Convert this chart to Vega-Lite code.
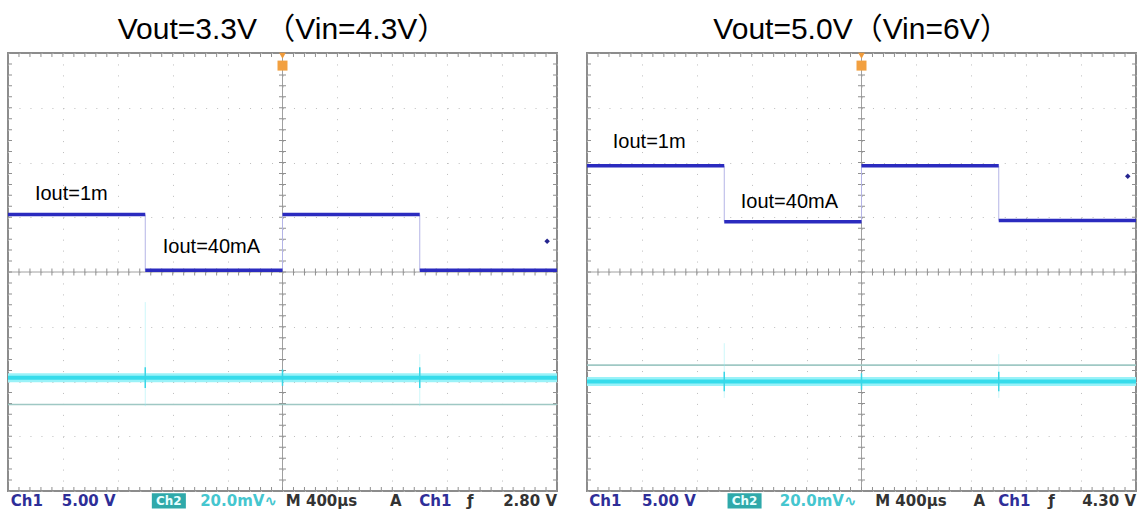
{
  "$schema": "https://vega.github.io/schema/vega-lite/v6.json",
  "background": "#ffffff",
  "padding": {"left": 2, "top": 15, "right": 0, "bottom": 0},
  "data": {"values": [
    {"panel": "Vout=3.3V （Vin=4.3V）", "k": "frame"},
    {"panel": "Vout=3.3V （Vin=4.3V）", "k": "cur", "t": -5, "t2": -2.5, "v": 1.05},
    {"panel": "Vout=3.3V （Vin=4.3V）", "k": "cur", "t": -2.5, "t2": 0, "v": 0.03},
    {"panel": "Vout=3.3V （Vin=4.3V）", "k": "cur", "t": 0, "t2": 2.5, "v": 1.05},
    {"panel": "Vout=3.3V （Vin=4.3V）", "k": "cur", "t": 2.5, "t2": 5, "v": 0.03},
    {"panel": "Vout=3.3V （Vin=4.3V）", "k": "edge", "t": -2.5, "v": 0.03, "v2": 1.05},
    {"panel": "Vout=3.3V （Vin=4.3V）", "k": "edge", "t": 0, "v": 0.03, "v2": 1.05},
    {"panel": "Vout=3.3V （Vin=4.3V）", "k": "edge", "t": 2.5, "v": 0.03, "v2": 1.05},
    {"panel": "Vout=3.3V （Vin=4.3V）", "k": "band", "v": -1.93},
    {"panel": "Vout=3.3V （Vin=4.3V）", "k": "ref", "v": -2.42},
    {"panel": "Vout=3.3V （Vin=4.3V）", "k": "spike", "t": -2.5, "v": -2.12, "v2": -1.74},
    {"panel": "Vout=3.3V （Vin=4.3V）", "k": "spike", "t": 0, "v": -2.08, "v2": -1.78},
    {"panel": "Vout=3.3V （Vin=4.3V）", "k": "spike", "t": 2.5, "v": -2.12, "v2": -1.74},
    {"panel": "Vout=3.3V （Vin=4.3V）", "k": "ghost", "t": -2.5, "v": -2.45, "v2": -0.55},
    {"panel": "Vout=3.3V （Vin=4.3V）", "k": "ghost", "t": 2.5, "v": -2.45, "v2": -1.5},
    {"panel": "Vout=3.3V （Vin=4.3V）", "k": "lab", "t": -4.51, "v": 1.42, "txt": "Iout=1m"},
    {"panel": "Vout=3.3V （Vin=4.3V）", "k": "lab", "t": -2.18, "v": 0.45, "txt": "Iout=40mA"},
    {"panel": "Vout=3.3V （Vin=4.3V）", "k": "trig", "t": 4.82, "v": 0.56},
    {"panel": "Vout=3.3V （Vin=4.3V）", "k": "st", "t": -4.95, "txt": "Ch1", "c": "b"},
    {"panel": "Vout=3.3V （Vin=4.3V）", "k": "st", "t": -4.02, "txt": "5.00 V", "c": "b"},
    {"panel": "Vout=3.3V （Vin=4.3V）", "k": "badge", "t": -2.38, "t2": -1.76},
    {"panel": "Vout=3.3V （Vin=4.3V）", "k": "bt", "t": -2.07, "txt": "Ch2", "c": "w"},
    {"panel": "Vout=3.3V （Vin=4.3V）", "k": "st", "t": -1.5, "txt": "20.0mV∿", "c": "c"},
    {"panel": "Vout=3.3V （Vin=4.3V）", "k": "st", "t": 0.06, "txt": "M 400µs", "c": "k"},
    {"panel": "Vout=3.3V （Vin=4.3V）", "k": "st", "t": 1.96, "txt": "A", "c": "k"},
    {"panel": "Vout=3.3V （Vin=4.3V）", "k": "st", "t": 2.49, "txt": "Ch1", "c": "b"},
    {"panel": "Vout=3.3V （Vin=4.3V）", "k": "st", "t": 3.36, "txt": "ƒ", "c": "k"},
    {"panel": "Vout=3.3V （Vin=4.3V）", "k": "str", "t": 5.0, "txt": "2.80 V", "c": "k"},
    {"panel": "Vout=5.0V（Vin=6V）", "k": "frame"},
    {"panel": "Vout=5.0V（Vin=6V）", "k": "cur", "t": -5, "t2": -2.5, "v": 1.94},
    {"panel": "Vout=5.0V（Vin=6V）", "k": "cur", "t": -2.5, "t2": 0, "v": 0.92},
    {"panel": "Vout=5.0V（Vin=6V）", "k": "cur", "t": 0, "t2": 2.5, "v": 1.94},
    {"panel": "Vout=5.0V（Vin=6V）", "k": "cur", "t": 2.5, "t2": 5, "v": 0.94},
    {"panel": "Vout=5.0V（Vin=6V）", "k": "edge", "t": -2.5, "v": 0.92, "v2": 1.94},
    {"panel": "Vout=5.0V（Vin=6V）", "k": "edge", "t": 0, "v": 0.92, "v2": 1.94},
    {"panel": "Vout=5.0V（Vin=6V）", "k": "edge", "t": 2.5, "v": 0.94, "v2": 1.94},
    {"panel": "Vout=5.0V（Vin=6V）", "k": "band", "v": -2.0},
    {"panel": "Vout=5.0V（Vin=6V）", "k": "ref", "v": -1.7},
    {"panel": "Vout=5.0V（Vin=6V）", "k": "spike", "t": -2.5, "v": -2.18, "v2": -1.82},
    {"panel": "Vout=5.0V（Vin=6V）", "k": "spike", "t": 0, "v": -2.15, "v2": -1.85},
    {"panel": "Vout=5.0V（Vin=6V）", "k": "spike", "t": 2.5, "v": -2.18, "v2": -1.82},
    {"panel": "Vout=5.0V（Vin=6V）", "k": "ghost", "t": -2.5, "v": -2.3, "v2": -1.3},
    {"panel": "Vout=5.0V（Vin=6V）", "k": "ghost", "t": 2.5, "v": -2.3, "v2": -1.5},
    {"panel": "Vout=5.0V（Vin=6V）", "k": "lab", "t": -4.53, "v": 2.37, "txt": "Iout=1m"},
    {"panel": "Vout=5.0V（Vin=6V）", "k": "lab", "t": -2.2, "v": 1.27, "txt": "Iout=40mA"},
    {"panel": "Vout=5.0V（Vin=6V）", "k": "trig", "t": 4.85, "v": 1.75},
    {"panel": "Vout=5.0V（Vin=6V）", "k": "st", "t": -4.96, "txt": "Ch1", "c": "b"},
    {"panel": "Vout=5.0V（Vin=6V）", "k": "st", "t": -4.0, "txt": "5.00 V", "c": "b"},
    {"panel": "Vout=5.0V（Vin=6V）", "k": "badge", "t": -2.44, "t2": -1.82},
    {"panel": "Vout=5.0V（Vin=6V）", "k": "bt", "t": -2.13, "txt": "Ch2", "c": "w"},
    {"panel": "Vout=5.0V（Vin=6V）", "k": "st", "t": -1.49, "txt": "20.0mV∿", "c": "c"},
    {"panel": "Vout=5.0V（Vin=6V）", "k": "st", "t": 0.25, "txt": "M 400µs", "c": "k"},
    {"panel": "Vout=5.0V（Vin=6V）", "k": "st", "t": 2.04, "txt": "A", "c": "k"},
    {"panel": "Vout=5.0V（Vin=6V）", "k": "st", "t": 2.49, "txt": "Ch1", "c": "b"},
    {"panel": "Vout=5.0V（Vin=6V）", "k": "st", "t": 3.4, "txt": "ƒ", "c": "k"},
    {"panel": "Vout=5.0V（Vin=6V）", "k": "str", "t": 5.0, "txt": "4.30 V", "c": "k"}
  ]},
  "facet": {
    "column": {
      "field": "panel", "type": "nominal",
      "sort": ["Vout=3.3V （Vin=4.3V）", "Vout=5.0V（Vin=6V）"],
      "header": {"title": null, "labelFontSize": 30, "labelFont": "Liberation Sans, Noto Sans CJK SC", "labelColor": "#000000", "labelPadding": 8}
    }
  },
  "spacing": 30,
  "bounds": "flush",
  "spec": {
    "width": 549,
    "height": 438,
    "layer": [
      {"transform": [{"filter": "datum.k == 'frame'"}], "mark": {"type": "rule", "color": "#a0a0a0", "strokeWidth": 1},
       "encoding": {
         "x": {"datum": -5, "type": "quantitative", "scale": {"domain": [-5, 5], "nice": false, "zero": false}, "title": null},
         "x2": {"datum": 5},
         "y": {"datum": 0, "type": "quantitative", "scale": {"domain": [-4, 4], "nice": false, "zero": false}, "title": null}}},
      {"transform": [{"filter": "datum.k == 'frame'"}], "mark": {"type": "rule", "color": "#909090", "strokeWidth": 7, "strokeDash": [1, 9.98], "strokeDashOffset": 0.5},
       "encoding": {
         "x": {"datum": -5, "type": "quantitative", "scale": {"domain": [-5, 5], "nice": false, "zero": false}, "title": null},
         "x2": {"datum": 5},
         "y": {"datum": 0, "type": "quantitative", "scale": {"domain": [-4, 4], "nice": false, "zero": false}, "title": null}}},
      {"transform": [{"filter": "datum.k == 'frame'"}], "mark": {"type": "rule", "color": "#a0a0a0", "strokeWidth": 1},
       "encoding": {
         "x": {"datum": 0, "type": "quantitative", "scale": {"domain": [-5, 5], "nice": false, "zero": false}, "title": null},
         "y": {"datum": -4, "type": "quantitative", "scale": {"domain": [-4, 4], "nice": false, "zero": false}, "title": null},
         "y2": {"datum": 4}}},
      {"transform": [{"filter": "datum.k == 'frame'"}], "mark": {"type": "rule", "color": "#909090", "strokeWidth": 7, "strokeDash": [1, 9.95], "strokeDashOffset": 0.5},
       "encoding": {
         "x": {"datum": 0, "type": "quantitative", "scale": {"domain": [-5, 5], "nice": false, "zero": false}, "title": null},
         "y": {"datum": -4, "type": "quantitative", "scale": {"domain": [-4, 4], "nice": false, "zero": false}, "title": null},
         "y2": {"datum": 4}}},
      {"transform": [{"filter": "datum.k == 'frame'"}], "mark": {"type": "rule", "color": "#909090", "strokeWidth": 8, "strokeDash": [1, 9.95], "strokeDashOffset": 0.5, "clip": true},
       "encoding": {
         "x": {"datum": -5, "type": "quantitative", "scale": {"domain": [-5, 5], "nice": false, "zero": false}, "title": null},
         "y": {"datum": -4, "type": "quantitative", "scale": {"domain": [-4, 4], "nice": false, "zero": false}, "title": null},
         "y2": {"datum": 4}}},
      {"transform": [{"filter": "datum.k == 'frame'"}], "mark": {"type": "rule", "color": "#909090", "strokeWidth": 8, "strokeDash": [1, 9.95], "strokeDashOffset": 0.5, "clip": true},
       "encoding": {
         "x": {"datum": 5, "type": "quantitative", "scale": {"domain": [-5, 5], "nice": false, "zero": false}, "title": null},
         "y": {"datum": -4, "type": "quantitative", "scale": {"domain": [-4, 4], "nice": false, "zero": false}, "title": null},
         "y2": {"datum": 4}}},
      {"transform": [{"filter": "datum.k == 'frame'"}], "mark": {"type": "rule", "color": "#909090", "strokeWidth": 8, "strokeDash": [1, 9.98], "strokeDashOffset": 0.5, "clip": true},
       "encoding": {
         "x": {"datum": -5, "type": "quantitative", "scale": {"domain": [-5, 5], "nice": false, "zero": false}, "title": null},
         "x2": {"datum": 5},
         "y": {"datum": 4, "type": "quantitative", "scale": {"domain": [-4, 4], "nice": false, "zero": false}, "title": null}}},
      {"transform": [{"filter": "datum.k == 'frame'"}], "mark": {"type": "rule", "color": "#909090", "strokeWidth": 8, "strokeDash": [1, 9.98], "strokeDashOffset": 0.5, "clip": true},
       "encoding": {
         "x": {"datum": -5, "type": "quantitative", "scale": {"domain": [-5, 5], "nice": false, "zero": false}, "title": null},
         "x2": {"datum": 5},
         "y": {"datum": -4, "type": "quantitative", "scale": {"domain": [-4, 4], "nice": false, "zero": false}, "title": null}}},
      {"transform": [{"filter": "datum.k == 'ref'"}], "mark": {"type": "rule", "color": "#9fc8c4", "strokeWidth": 1.6},
       "encoding": {
         "x": {"datum": -5, "type": "quantitative", "scale": {"domain": [-5, 5], "nice": false, "zero": false}, "title": null},
         "x2": {"datum": 5},
         "y": {"field": "v", "type": "quantitative", "scale": {"domain": [-4, 4], "nice": false, "zero": false}, "title": null}}},
      {"transform": [{"filter": "datum.k == 'ghost'"}], "mark": {"type": "rule", "color": "#8eeef5", "strokeWidth": 1, "opacity": 0.45},
       "encoding": {
         "x": {"field": "t", "type": "quantitative", "scale": {"domain": [-5, 5], "nice": false, "zero": false}, "title": null},
         "y": {"field": "v", "type": "quantitative", "scale": {"domain": [-4, 4], "nice": false, "zero": false}, "title": null},
         "y2": {"field": "v2"}}},
      {"transform": [{"filter": "datum.k == 'band'"}], "mark": {"type": "rule", "color": "#9af2f8", "strokeWidth": 9},
       "encoding": {
         "x": {"datum": -5, "type": "quantitative", "scale": {"domain": [-5, 5], "nice": false, "zero": false}, "title": null},
         "x2": {"datum": 5},
         "y": {"field": "v", "type": "quantitative", "scale": {"domain": [-4, 4], "nice": false, "zero": false}, "title": null}}},
      {"transform": [{"filter": "datum.k == 'band'"}], "mark": {"type": "rule", "color": "#36dceb", "strokeWidth": 4},
       "encoding": {
         "x": {"datum": -5, "type": "quantitative", "scale": {"domain": [-5, 5], "nice": false, "zero": false}, "title": null},
         "x2": {"datum": 5},
         "y": {"field": "v", "type": "quantitative", "scale": {"domain": [-4, 4], "nice": false, "zero": false}, "title": null}}},
      {"transform": [{"filter": "datum.k == 'spike'"}], "mark": {"type": "rule", "color": "#3ad6e6", "strokeWidth": 1.5},
       "encoding": {
         "x": {"field": "t", "type": "quantitative", "scale": {"domain": [-5, 5], "nice": false, "zero": false}, "title": null},
         "y": {"field": "v", "type": "quantitative", "scale": {"domain": [-4, 4], "nice": false, "zero": false}, "title": null},
         "y2": {"field": "v2"}}},
      {"transform": [{"filter": "datum.k == 'edge'"}], "mark": {"type": "rule", "color": "#b4b4e6", "strokeWidth": 1},
       "encoding": {
         "x": {"field": "t", "type": "quantitative", "scale": {"domain": [-5, 5], "nice": false, "zero": false}, "title": null},
         "y": {"field": "v", "type": "quantitative", "scale": {"domain": [-4, 4], "nice": false, "zero": false}, "title": null},
         "y2": {"field": "v2"}}},
      {"transform": [{"filter": "datum.k == 'cur'"}], "mark": {"type": "rule", "color": "#2b2bbf", "strokeWidth": 3.5},
       "encoding": {
         "x": {"field": "t", "type": "quantitative", "scale": {"domain": [-5, 5], "nice": false, "zero": false}, "title": null},
         "x2": {"field": "t2"},
         "y": {"field": "v", "type": "quantitative", "scale": {"domain": [-4, 4], "nice": false, "zero": false}, "title": null}}},
      {"transform": [{"filter": "datum.k == 'trig'"}], "mark": {"type": "point", "shape": "diamond", "filled": true, "color": "#24248f", "size": 30, "opacity": 1},
       "encoding": {
         "x": {"field": "t", "type": "quantitative", "scale": {"domain": [-5, 5], "nice": false, "zero": false}, "title": null},
         "y": {"field": "v", "type": "quantitative", "scale": {"domain": [-4, 4], "nice": false, "zero": false}, "title": null}}},
      {"transform": [{"filter": "datum.k == 'frame'"}], "mark": {"type": "point", "shape": "triangle-down", "filled": true, "color": "#ee9a3a", "size": 45, "opacity": 1},
       "encoding": {
         "x": {"datum": 0, "type": "quantitative", "scale": {"domain": [-5, 5], "nice": false, "zero": false}, "title": null},
         "y": {"datum": 3.95, "type": "quantitative", "scale": {"domain": [-4, 4], "nice": false, "zero": false}, "title": null}}},
      {"transform": [{"filter": "datum.k == 'frame'"}], "mark": {"type": "point", "shape": "square", "filled": true, "color": "#f2a040", "size": 100, "opacity": 1},
       "encoding": {
         "x": {"datum": 0, "type": "quantitative", "scale": {"domain": [-5, 5], "nice": false, "zero": false}, "title": null},
         "y": {"datum": 3.77, "type": "quantitative", "scale": {"domain": [-4, 4], "nice": false, "zero": false}, "title": null}}},
      {"transform": [{"filter": "datum.k == 'lab'"}], "mark": {"type": "text", "align": "left", "baseline": "middle", "font": "Liberation Sans", "fontSize": 20, "color": "#000000"},
       "encoding": {
         "x": {"field": "t", "type": "quantitative", "scale": {"domain": [-5, 5], "nice": false, "zero": false}, "title": null},
         "y": {"field": "v", "type": "quantitative", "scale": {"domain": [-4, 4], "nice": false, "zero": false}, "title": null},
         "text": {"field": "txt"}}},
      {"transform": [{"filter": "datum.k == 'badge'"}], "mark": {"type": "rect", "color": "#2fa9aa"},
       "encoding": {
         "x": {"field": "t", "type": "quantitative", "scale": {"domain": [-5, 5], "nice": false, "zero": false}, "title": null},
         "x2": {"field": "t2"},
         "y": {"datum": -4.04, "type": "quantitative", "scale": {"domain": [-4, 4], "nice": false, "zero": false}, "title": null},
         "y2": {"datum": -4.32}}},
      {"transform": [{"filter": "datum.k == 'bt'"}], "mark": {"type": "text", "align": "center", "baseline": "middle", "font": "DejaVu Sans", "fontWeight": "bold", "fontSize": 12},
       "encoding": {
         "x": {"field": "t", "type": "quantitative", "scale": {"domain": [-5, 5], "nice": false, "zero": false}, "title": null},
         "y": {"datum": -4.18, "type": "quantitative", "scale": {"domain": [-4, 4], "nice": false, "zero": false}, "title": null},
         "text": {"field": "txt"},
         "color": {"field": "c", "type": "nominal", "scale": {"domain": ["b", "c", "k", "w"], "range": ["#2e2e98", "#45c6cf", "#333333", "#e8ffff"]}, "legend": null}}},
      {"transform": [{"filter": "datum.k == 'st'"}], "mark": {"type": "text", "align": "left", "baseline": "middle", "font": "DejaVu Sans", "fontWeight": "bold", "fontSize": 15},
       "encoding": {
         "x": {"field": "t", "type": "quantitative", "scale": {"domain": [-5, 5], "nice": false, "zero": false}, "title": null},
         "y": {"datum": -4.18, "type": "quantitative", "scale": {"domain": [-4, 4], "nice": false, "zero": false}, "title": null},
         "text": {"field": "txt"},
         "color": {"field": "c", "type": "nominal", "scale": {"domain": ["b", "c", "k", "w"], "range": ["#2e2e98", "#45c6cf", "#333333", "#e8ffff"]}, "legend": null}}},
      {"transform": [{"filter": "datum.k == 'str'"}], "mark": {"type": "text", "align": "right", "baseline": "middle", "font": "DejaVu Sans", "fontWeight": "bold", "fontSize": 15},
       "encoding": {
         "x": {"field": "t", "type": "quantitative", "scale": {"domain": [-5, 5], "nice": false, "zero": false}, "title": null},
         "y": {"datum": -4.18, "type": "quantitative", "scale": {"domain": [-4, 4], "nice": false, "zero": false}, "title": null},
         "text": {"field": "txt"},
         "color": {"field": "c", "type": "nominal", "scale": {"domain": ["b", "c", "k", "w"], "range": ["#2e2e98", "#45c6cf", "#333333", "#e8ffff"]}, "legend": null}}}
    ]
  },
  "config": {
    "view": {"stroke": "#8c8c8c", "strokeWidth": 2},
    "axis": {"grid": true, "gridColor": "#bdbdbd", "gridWidth": 1, "ticks": false, "labels": false, "domain": false},
    "axisX": {"tickCount": 10, "gridDash": [1, 9.95]},
    "axisY": {"tickCount": 8, "gridDash": [1, 9.98]},
    "legend": {"disable": true}
  }
}
